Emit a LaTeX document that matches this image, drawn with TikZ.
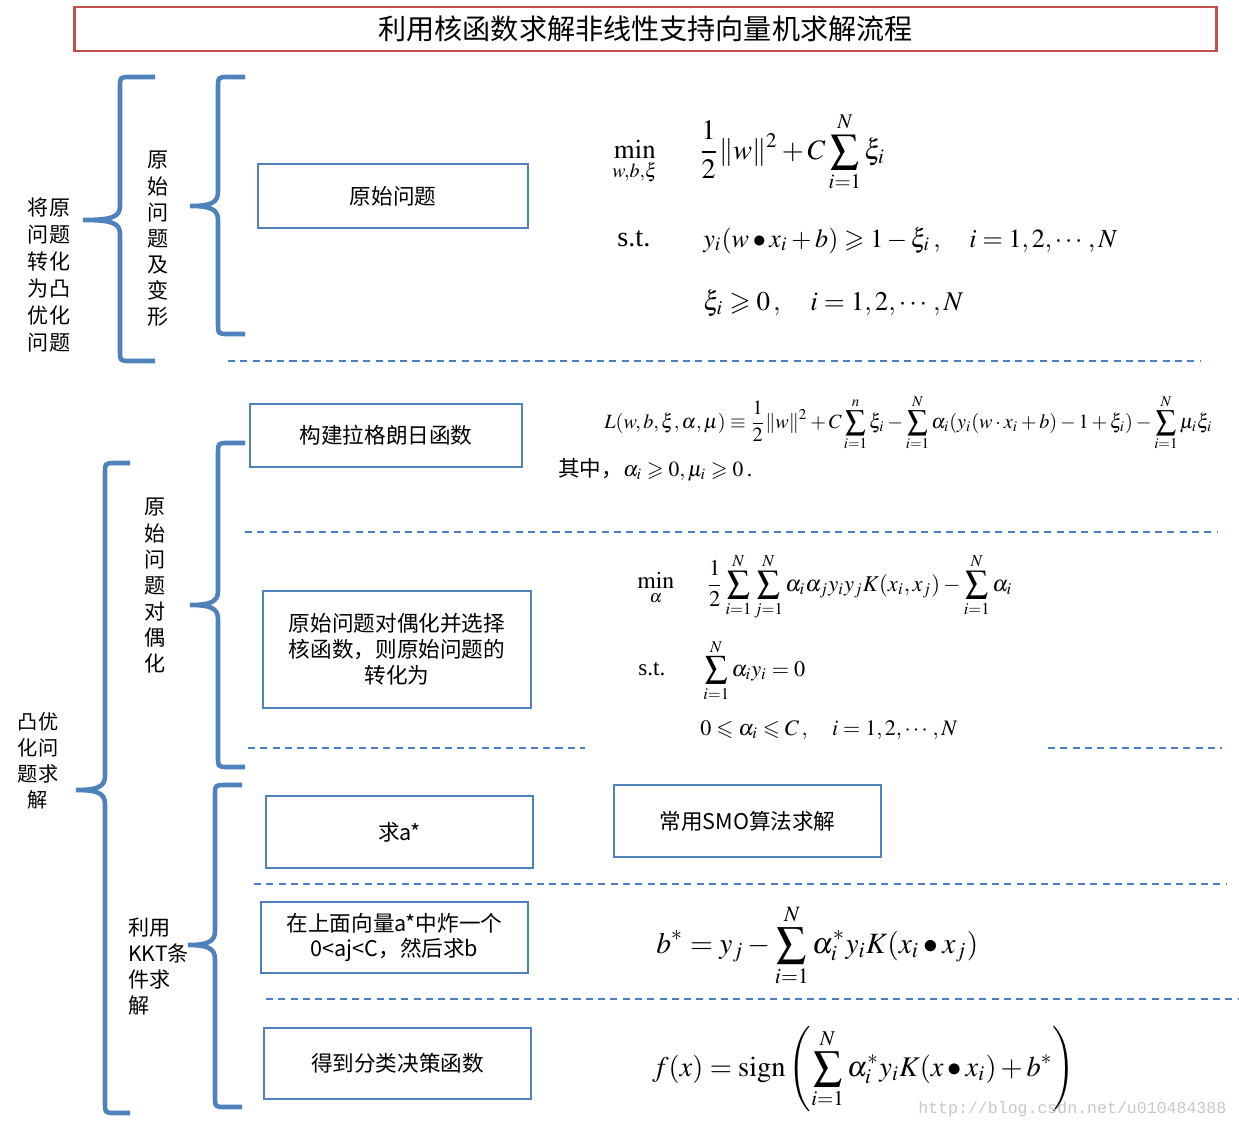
\documentclass[tikz,border=0pt]{standalone}
\usepackage{amsmath}
\usepackage{mathptmx}
\usepackage{amssymb}
\usepackage[no-math]{fontspec}
\setmainfont{Liberation Serif}
\newfontfamily\cjk{Noto Sans CJK SC}
\newfontfamily\wmfont{Liberation Mono}
\usepackage{graphicx}
\definecolor{oblue}{HTML}{4F81BD}
\definecolor{ored}{HTML}{C0504D}
\definecolor{dblue}{HTML}{4A7EC5}
\newcommand\fitw[2]{\resizebox{#1}{!}{#2}}
\newcommand\mybrace[6]{% xv, xtip, xcusp, ytop, ymid, ybot
  \draw[bracestyle] (#2,#4) -- (#1+10,#4) .. controls (#1,#4) .. (#1,#4+12)
    -- (#1,#5-14) .. controls (#1,#5-3) and (#1-8,#5) .. (#3,#5)
    .. controls (#1-8,#5) and (#1,#5+3) .. (#1,#5+14)
    -- (#1,#6-12) .. controls (#1,#6) .. (#1+10,#6) -- (#2,#6);}
\begin{document}
\begin{tikzpicture}[x=0.02cm,y=-0.02cm,
  box/.style={draw=oblue, line width=1.5pt, fill=white, align=center, inner sep=0pt,
    font=\cjk\fontsize{12.3}{14.7}\selectfont},
  lab/.style={align=center, inner sep=0pt, font=\cjk\fontsize{12}{15}\selectfont},
  bracestyle/.style={draw=oblue, line width=2.6pt},
  sepline/.style={draw=dblue, line width=0.9pt, dash pattern=on 4pt off 3pt},
  fml/.style={inner sep=0pt, anchor=base west}]
\useasboundingbox (0,0) rectangle (1239,1126);

% title
\node[draw=ored, line width=1.7pt, minimum width=22.86cm, minimum height=0.88cm, inner sep=0pt,
  font=\cjk\fontsize{16}{19}\selectfont] (title) at (645.5,29) {利用核函数求解非线性支持向量机求解流程};

% braces
\mybrace{120}{155}{83}{77}{220}{361}
\mybrace{218}{245}{190}{77}{206}{334}
\mybrace{105}{130}{76}{463}{790}{1113}
\mybrace{218}{245}{190}{443}{605}{767}
\mybrace{215}{242}{188}{785}{945}{1107}

% left labels
\node[lab, font=\cjk\fontsize{12}{15.3}\selectfont] (l1) at (49,275) {将原\\问题\\转化\\为凸\\优化\\问题};
\node[lab, font=\cjk\fontsize{12}{14.9}\selectfont] (l2) at (158,239) {原\\始\\问\\题\\及\\变\\形};
\node[lab, font=\cjk\fontsize{11.5}{14.8}\selectfont] (l3) at (38,761) {凸优\\化问\\题求\\解};
\node[lab, font=\cjk\fontsize{12}{14.9}\selectfont] (l4) at (155,586) {原\\始\\问\\题\\对\\偶\\化};
\node[lab, align=left, anchor=west, font=\cjk\fontsize{12}{14.8}\selectfont] (l5) at (128,967) {利用\\KKT条\\件求\\解};

% separators
\draw[sepline] (228,361) -- (1200,361);
\draw[sepline] (245,532) -- (1218,532);
\draw[sepline] (248,748) -- (585,748);
\draw[sepline] (1048,748) -- (1222,748);
\draw[sepline] (254,884) -- (1226,884);
\draw[sepline] (266,999) -- (1238,999);

% boxes
\node[box, minimum width=5.4cm, minimum height=1.28cm] (b1) at (393,196) {原始问题};
\node[box, minimum width=5.44cm, minimum height=1.26cm] (b2) at (386,435.5) {构建拉格朗日函数};
\node[box, minimum width=5.36cm, minimum height=2.34cm] (b3) at (397,649.5) {原始问题对偶化并选择\\核函数，则原始问题的\\转化为};
\node[box, minimum width=5.34cm, minimum height=1.44cm] (b4) at (399.5,832) {求a*};
\node[box, minimum width=5.34cm, minimum height=1.44cm] (b5) at (747.5,821) {常用SMO算法求解};
\node[box, minimum width=5.34cm, minimum height=1.42cm] (b6) at (394.5,937.5) {在上面向量a*中炸一个\\0<aj<C，然后求b};
\node[box, minimum width=5.34cm, minimum height=1.42cm] (b7) at (397.5,1063.5) {得到分类决策函数};

% formulas: primal
\node[fml] (a1) at (612,158) {\fitw{0.9cm}{$\displaystyle\min_{w,b,\xi}$}};
\node[fml] (a2) at (698,159) {\fitw{3.74cm}{$\displaystyle\frac{1}{2}\|w\|^2+C\sum_{i=1}^{N}\xi_i$}};
\node[fml] (a3) at (617,246) {\fitw{0.66cm}{s.t.}};
\node[fml] (a4) at (703,247) {\fitw{8.28cm}{$y_i(w\bullet x_i+b)\geqslant1-\xi_i\,,\quad i=1,2,\cdots,N$}};
\node[fml] (a5) at (703,310) {\fitw{5.2cm}{$\xi_i\geqslant0\,,\quad i=1,2,\cdots,N$}};

% Lagrangian
\node[fml] (bl1) at (604,428) {\fitw{12.16cm}{$\displaystyle L(w,b,\xi,\alpha,\mu)\equiv\frac{1}{2}\|w\|^2+C\sum_{i=1}^{n}\xi_i-\sum_{i=1}^{N}\alpha_i(y_i(w\cdot x_i+b)-1+\xi_i)-\sum_{i=1}^{N}\mu_i\xi_i$}};
\node[fml] (bl2) at (558,476) {\fitw{3.88cm}{{\cjk 其中，}$\alpha_i\geqslant0,\mu_i\geqslant0$\,.}};

% dual
\node[fml] (c1) at (637,588) {\fitw{0.74cm}{$\displaystyle\min_{\alpha}$}};
\node[fml] (c2) at (706,591) {\fitw{6.12cm}{$\displaystyle\frac{1}{2}\sum_{i=1}^{N}\sum_{j=1}^{N}\alpha_i\alpha_jy_iy_jK(x_i,x_j)-\sum_{i=1}^{N}\alpha_i$}};
\node[fml] (c3) at (638,675) {\fitw{0.54cm}{s.t.}};
\node[fml] (c4) at (703,676) {\fitw{2.04cm}{$\displaystyle\sum_{i=1}^{N}\alpha_iy_i=0$}};
\node[fml] (c5) at (700,735) {\fitw{5.14cm}{$0\leqslant\alpha_i\leqslant C\,,\quad i=1,2,\cdots,N$}};

% KKT
\node[fml] (d1) at (656,953) {\fitw{6.44cm}{$\displaystyle b^*=y_j-\sum_{i=1}^{N}\alpha_i^*y_iK(x_i\bullet x_j)$}};
\node[fml] (d2) at (652,1076) {\fitw{8.46cm}{$\displaystyle f(x)=\mathrm{sign}\left(\sum_{i=1}^{N}\alpha_i^*y_iK(x\bullet x_i)+b^*\right)$}};

% watermark
\node[fml, text=black!22, font=\wmfont] (wm) at (918,1113) {\fitw{6.16cm}{http://blog.csdn.net/u010484388}};
\end{tikzpicture}
\end{document}
